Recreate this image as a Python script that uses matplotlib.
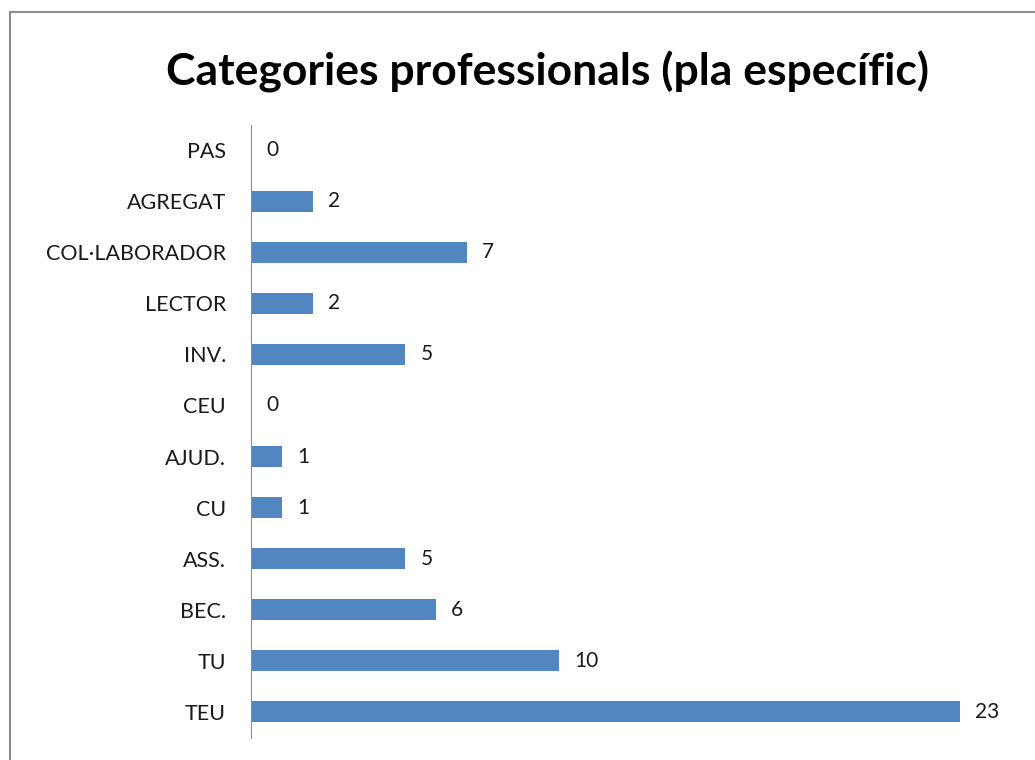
""" Horizontal bar chart of professional categories (specific plan). """

import matplotlib.pyplot as plt
from matplotlib.patches import Rectangle

categories = ['TEU', 'TU', 'BEC.', 'ASS.', 'CU', 'AJUD.', 'CEU', 'INV.',
              'LECTOR', 'COL·LABORADOR', 'AGREGAT', 'PAS']
counts = [23, 10, 6, 5, 1, 1, 0, 5, 2, 7, 2, 0]

BAR_COLOR = '#5286C0'
plt.rcParams['font.family'] = ['Lato', 'DejaVu Sans']

fig = plt.figure(figsize=(10.35, 7.6), dpi=100)
ax = fig.add_axes([251 / 1035, 22.5 / 760, 749 / 1035, 613 / 760])

positions = list(range(len(categories)))
ax.barh(positions, counts, height=0.41, color=BAR_COLOR)

for pos, val in zip(positions, counts):
    ax.annotate(str(val), (val, pos), xytext=(11, 0), textcoords='offset points',
                ha='left', va='center', fontsize=15, color='#1a1a1a')

ax.set_ylim(-0.5, len(categories) - 0.5)
ax.set_xlim(0, 24.3)
ax.set_yticks(positions)
ax.set_yticklabels(categories, fontsize=15.5, color='#1a1a1a')
ax.tick_params(axis='y', length=0, pad=18)
ax.set_xticks([])
for side in ['top', 'right', 'bottom']:
    ax.spines[side].set_visible(False)
ax.spines['left'].set_color('#8c8c8c')

fig.text(548 / 1035, 1 - 72 / 760, 'Categories professionals (pla específic)',
         ha='center', va='center', fontsize=32, fontweight='bold', color='black')

# chart frame (cut off at right and bottom in the original)
fig.patches.append(Rectangle((9.5 / 1035, -0.1), 1.2, 1 - 11.5 / 760 + 0.1,
                             transform=fig.transFigure, fill=False,
                             edgecolor='#8c8c8c', linewidth=1.5))

fig.savefig('out.png', dpi=100)
